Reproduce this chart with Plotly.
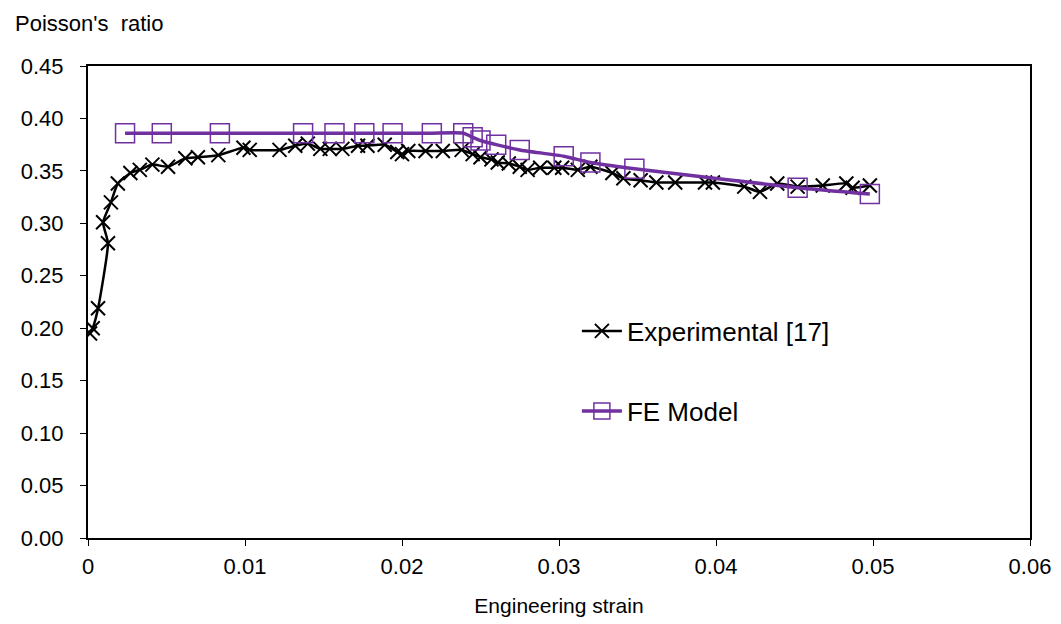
import plotly.graph_objects as go

exp_strain = [0.00013, 0.0003, 0.00064, 0.00127, 0.00096, 0.00146, 0.0019, 0.0027, 0.0033, 0.0041,
              0.0051, 0.0062, 0.0070, 0.0083, 0.0099, 0.0103, 0.0122, 0.0132, 0.0140, 0.0148,
              0.0154, 0.0162, 0.0172, 0.0178, 0.0189, 0.0197, 0.0200, 0.0204, 0.0215, 0.0226,
              0.0238, 0.0245, 0.0250, 0.0257, 0.0261, 0.0268, 0.0275, 0.0280, 0.0288, 0.0297,
              0.0302, 0.0312, 0.0320, 0.0334, 0.0341, 0.0352, 0.0362, 0.0374, 0.0393, 0.0398,
              0.0418, 0.0428, 0.0439, 0.0452, 0.0468, 0.0483, 0.0487, 0.0498]
exp_ratio = [0.195, 0.200, 0.219, 0.281, 0.301, 0.320, 0.338, 0.348, 0.351, 0.356,
             0.354, 0.362, 0.363, 0.365, 0.372, 0.370, 0.370, 0.374, 0.376, 0.371,
             0.371, 0.371, 0.374, 0.374, 0.375, 0.368, 0.366, 0.369, 0.369, 0.369,
             0.370, 0.366, 0.363, 0.361, 0.358, 0.357, 0.354, 0.351, 0.353, 0.353,
             0.353, 0.351, 0.354, 0.348, 0.343, 0.341, 0.339, 0.339, 0.339, 0.339,
             0.335, 0.330, 0.338, 0.335, 0.336, 0.338, 0.334, 0.336]

fe_strain = [0.00236, 0.0047, 0.0084, 0.0137, 0.0157, 0.0176, 0.0194, 0.0219, 0.0239,
             0.0245, 0.0250, 0.0260, 0.0275, 0.0303, 0.0320, 0.0348, 0.0452, 0.0498]
fe_ratio = [0.386, 0.386, 0.386, 0.386, 0.386, 0.386, 0.386, 0.386, 0.386,
            0.382, 0.379, 0.375, 0.370, 0.364, 0.358, 0.352, 0.334, 0.328]

x_ticks = [0, 0.01, 0.02, 0.03, 0.04, 0.05, 0.06]
x_tick_text = ["0", "0.01", "0.02", "0.03", "0.04", "0.05", "0.06"]
y_ticks = [0.00, 0.05, 0.10, 0.15, 0.20, 0.25, 0.30, 0.35, 0.40, 0.45]
y_tick_text = ["0.00", "0.05", "0.10", "0.15", "0.20", "0.25", "0.30", "0.35", "0.40", "0.45"]

PURPLE = "#7030A0"
FONT = "Liberation Sans, Arial, sans-serif"

fig = go.Figure()
fig.add_trace(go.Scatter(
    x=exp_strain, y=exp_ratio, mode="lines+markers", name="Experimental [17]",
    line=dict(color="black", width=2.5, shape="spline", smoothing=0.5),
    marker=dict(symbol="x-thin", size=14, color="black", line=dict(color="black", width=2)),
    legend="legend",
))
fig.add_trace(go.Scatter(
    x=fe_strain, y=fe_ratio, mode="lines+markers", name="FE Model",
    line=dict(color=PURPLE, width=3.5, shape="spline", smoothing=0.5),
    marker=dict(symbol="square-open", size=19, color=PURPLE, line=dict(color=PURPLE, width=1.5)),
    legend="legend2",
))

axis_common = dict(
    showgrid=False, zeroline=False, showline=True, linecolor="black", linewidth=2,
    mirror=True, ticks="outside", ticklen=6, tickcolor="black", tickwidth=1,
    tickfont=dict(family=FONT, size=22, color="black"), automargin=False,
)

fig.update_layout(
    width=1061, height=624,
    margin=dict(l=88, r=31, t=66, b=86),
    paper_bgcolor="white", plot_bgcolor="white",
    font=dict(family=FONT, size=22, color="black"),
    xaxis=dict(range=[0, 0.06], tickvals=x_ticks, ticktext=x_tick_text, ticklabelstandoff=2,
               title=dict(text="Engineering strain", font=dict(family=FONT, size=21), standoff=20),
               **axis_common),
    yaxis=dict(range=[0, 0.45], tickvals=y_ticks, ticktext=y_tick_text, ticklabelstandoff=12,
               **axis_common),
    showlegend=True,
    legend=dict(x=0.519, y=0.4386, xanchor="left", yanchor="middle", bgcolor="rgba(0,0,0,0)",
                font=dict(family=FONT, size=26, color="black"), itemwidth=40),
    legend2=dict(x=0.519, y=0.269, xanchor="left", yanchor="middle", bgcolor="rgba(0,0,0,0)",
                 font=dict(family=FONT, size=26, color="black"), itemwidth=40),
    annotations=[dict(text="Poisson's  ratio", xref="paper", yref="paper", x=-0.08, y=1.06,
                      xanchor="left", yanchor="bottom", showarrow=False,
                      font=dict(family=FONT, size=22, color="black"))],
)

fig.write_html("out.html")
